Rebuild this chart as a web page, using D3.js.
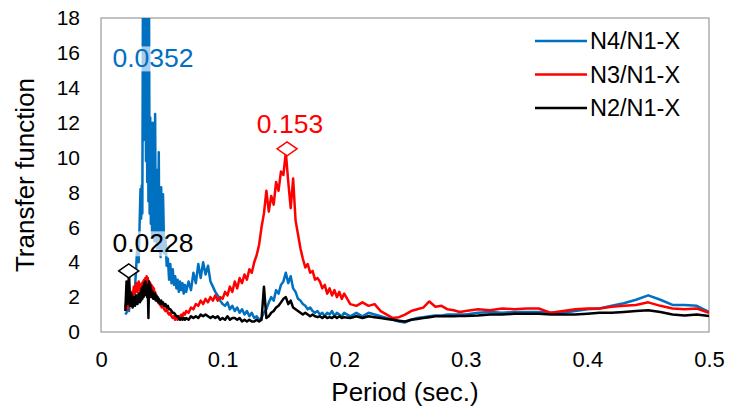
<!DOCTYPE html>
<html>
<head>
<meta charset="utf-8">
<script src="https://cdn.jsdelivr.net/npm/d3@7"></script>
<style>
  body { margin: 0; background: #fff; }
  svg { display: block; font-family: "Liberation Sans", Arial, sans-serif; }
  .tick text { fill: #000; }
</style>
</head>
<body>
<script>
  // shared period grid (sec.)
  var periods = [
    0.020,0.021,0.022,0.023,0.024,0.025,0.026,0.027,0.028,0.029,0.030,0.031,0.032,
    0.0325,0.033,0.0335,0.034,0.0345,0.035,0.0355,0.036,0.0365,0.037,0.0375,0.038,
    0.0385,0.039,0.0395,0.040,0.0405,0.041,0.0415,0.042,0.0425,0.043,0.0435,0.044,
    0.0445,0.045,0.0455,0.046,0.0465,0.047,0.0475,0.048,0.0485,0.049,0.0495,0.050,
    0.051,0.052,0.053,0.054,0.055,0.056,0.057,0.058,0.059,0.060,
    0.061,0.062,0.063,0.064,0.065,0.066,0.067,0.068,0.069,0.070,
    0.072,0.074,0.076,0.078,0.080,0.082,0.084,0.086,0.088,0.090,
    0.092,0.094,0.096,0.098,0.100,0.102,0.104,0.106,0.108,0.110,
    0.112,0.114,0.116,0.118,0.120,0.122,0.124,0.126,0.128,0.130,
    0.132,0.134,0.136,0.138,0.140,0.142,0.144,0.146,0.148,0.150,
    0.152,0.154,0.156,0.158,0.160,0.162,0.164,0.166,0.168,0.170,
    0.172,0.174,0.176,0.178,0.180,0.182,0.184,0.186,0.188,0.190,
    0.192,0.194,0.196,0.198,0.200,
    0.205,0.210,0.215,0.220,0.225,0.230,0.235,0.240,0.245,0.250,
    0.255,0.260,0.265,0.270,0.275,0.280,0.285,0.290,0.295,0.300,
    0.31,0.32,0.33,0.34,0.35,0.36,0.37,0.38,0.39,0.40,
    0.41,0.42,0.43,0.44,0.45,0.46,0.47,0.48,0.49,0.50
  ];

  var n4 = [
    1.0,1.1,1.4,1.2,1.8,1.5,2.2,1.9,2.6,3.8,5.2,4.0,6.9,
    8.2,6.5,8.4,6.8,19.5,11.0,21.0,13.0,19.0,9.8,18.8,8.6,
    19.2,7.5,18.5,6.8,12.3,6.2,11.2,5.5,12.0,6.0,9.5,5.2,
    12.5,5.8,8.6,4.8,9.3,5.5,10.3,4.6,7.4,4.3,8.3,4.6,
    7.9,4.5,5.4,3.8,4.2,3.0,3.9,2.8,3.6,2.7,
    3.2,2.5,3.0,2.3,2.9,2.4,2.8,2.2,2.7,2.3,
    2.9,2.4,3.4,2.8,3.9,3.1,4.0,3.3,3.8,2.9,
    2.6,2.3,2.1,1.8,1.6,1.5,1.7,1.3,1.5,1.2,
    1.4,1.1,1.3,1.0,1.2,0.9,1.1,0.8,0.9,0.7,
    0.8,1.1,1.3,1.7,2.0,1.8,2.4,2.2,2.7,2.9,
    3.4,2.8,3.2,2.5,2.3,1.9,1.8,1.6,1.5,1.3,
    1.4,1.2,1.1,1.2,1.0,1.1,0.9,1.1,1.0,1.2,
    0.9,1.1,1.0,0.9,1.1,
    0.9,1.1,0.9,1.1,1.0,0.9,0.8,0.7,0.6,0.55,
    0.7,0.8,0.85,0.9,0.95,0.95,1.0,1.0,1.0,1.0,
    1.1,1.15,1.1,1.15,1.15,1.15,1.1,1.1,1.2,1.3,
    1.35,1.5,1.65,1.85,2.1,1.85,1.55,1.55,1.5,1.15
  ];

  var n3 = [
    1.4,1.8,1.3,2.1,1.7,2.3,1.9,2.6,2.2,2.8,2.3,2.9,2.4,
    2.7,2.2,2.8,2.3,2.9,2.4,3.0,2.5,3.1,2.6,3.2,2.7,
    3.1,2.5,2.9,2.4,2.8,2.3,2.7,2.2,2.6,2.1,2.5,2.0,
    2.3,1.9,2.1,1.8,2.0,1.7,1.8,1.6,1.7,1.5,1.6,1.4,
    1.5,1.3,1.2,1.3,1.1,1.0,1.1,0.9,0.8,0.9,
    0.7,0.8,0.7,0.9,0.8,1.0,0.9,1.1,1.0,1.2,
    1.1,1.4,1.3,1.6,1.5,1.8,1.6,1.9,1.7,2.0,
    1.8,2.1,1.8,2.0,1.9,2.3,2.1,2.6,2.3,2.9,
    2.5,3.1,2.8,3.3,3.0,3.6,3.4,4.0,4.4,5.0,
    6.0,6.8,8.1,6.9,7.8,7.3,8.6,8.1,9.2,9.0,
    10.3,8.6,7.1,8.8,6.4,5.6,4.8,4.2,3.7,3.9,
    3.4,3.5,3.0,3.1,2.9,2.5,2.7,2.2,2.5,2.1,
    2.4,2.0,2.3,1.9,2.2,
    1.6,1.5,1.7,1.5,1.6,1.2,1.0,0.8,0.85,1.0,
    1.2,1.3,1.4,1.75,1.45,1.5,1.3,1.25,1.15,1.2,
    1.3,1.25,1.35,1.3,1.35,1.35,1.1,1.2,1.3,1.35,
    1.35,1.45,1.5,1.55,1.7,1.5,1.35,1.3,1.35,1.1
  ];

  var n2 = [
    1.2,2.9,1.6,3.5,1.5,2.2,1.4,2.0,1.5,2.1,1.6,2.2,1.7,
    2.3,1.8,2.5,1.9,2.6,2.0,2.8,2.1,2.9,2.2,2.7,2.0,
    2.5,0.8,2.9,2.3,2.7,2.0,2.4,2.0,2.3,1.9,2.2,1.9,
    2.2,1.8,2.1,1.8,2.0,1.7,1.9,1.7,1.8,1.6,1.8,1.6,
    1.7,1.5,1.6,1.4,1.5,1.3,1.3,1.2,1.1,1.1,
    1.0,0.9,0.9,0.8,0.7,0.8,0.7,0.8,0.7,0.8,
    0.7,0.9,0.8,0.9,0.8,1.0,0.9,1.0,0.9,0.8,
    0.9,0.8,0.9,0.7,0.8,0.7,0.9,0.7,0.8,0.8,
    0.7,0.8,0.6,0.7,0.6,0.7,0.6,0.6,0.7,0.6,
    0.7,2.6,0.8,0.9,1.1,1.2,1.4,1.5,1.7,1.9,
    2.0,1.6,1.8,1.4,1.3,1.2,1.1,1.0,1.1,1.0,
    0.9,1.0,0.9,0.85,0.9,0.8,0.9,0.8,0.85,0.8,
    0.9,0.8,0.9,0.8,0.85,
    0.8,0.9,0.8,0.9,0.85,0.8,0.75,0.7,0.65,0.6,
    0.7,0.75,0.8,0.85,0.9,0.9,0.9,0.9,0.92,0.92,
    0.95,1.0,1.0,1.05,1.05,1.05,1.0,1.0,1.0,1.05,
    1.1,1.1,1.15,1.2,1.25,1.15,1.0,0.95,1.0,0.92
  ];

  var seriesNames = ["N4/N1-X", "N3/N1-X", "N2/N1-X"];
  var seriesColors = ["#0070c0", "#ff0000", "#000000"];
  var seriesValues = [n4, n3, n2];

  // peak annotations
  var peakPeriods = [0.0352, 0.153, 0.0228];
  var peakValues = [20.5, 10.5, 3.5];
  var peakLabels = ["0.0352", "0.153", "0.0228"];
  var labelPeriods = [0.0428, 0.1554, 0.0428];
  var labelValues = [15.7, 11.95, 5.1];

  var xTicks = [0, 0.1, 0.2, 0.3, 0.4, 0.5];
  var yTicks = [0, 2, 4, 6, 8, 10, 12, 14, 16, 18];

  var margin = {top: 18, right: 21, bottom: 80, left: 101},
      width = 730 - margin.left - margin.right,
      height = 412 - margin.top - margin.bottom;

  var x = d3.scaleLinear().domain([0, 0.5]).range([0, width]);
  var y = d3.scaleLinear().domain([0, 18]).range([height, 0]);

  var svg = d3.select("body").append("svg")
      .attr("width", 730)
      .attr("height", 412);

  svg.append("defs").append("clipPath")
      .attr("id", "plotclip")
    .append("rect")
      .attr("width", width)
      .attr("height", height);

  var g = svg.append("g")
      .attr("transform", "translate(" + margin.left + "," + margin.top + ")");

  // axis-x
  var gx = g.append("g")
      .attr("transform", "translate(0," + height + ")")
      .call(d3.axisBottom(x).tickValues(xTicks).tickSize(0).tickPadding(19)
        .tickFormat(function(d) { return d === 0 ? "0" : d3.format(".1f")(d); }));
  gx.select(".domain").remove();
  gx.selectAll("text").attr("font-size", "22px").attr("font-family", "Liberation Sans, Arial, sans-serif");

  // axis-y
  var gy = g.append("g")
      .call(d3.axisLeft(y).tickValues(yTicks).tickSize(0).tickPadding(21));
  gy.select(".domain").remove();
  gy.selectAll("text").attr("font-size", "21px").attr("font-family", "Liberation Sans, Arial, sans-serif");

  // plot border
  g.append("rect")
      .attr("width", width)
      .attr("height", height)
      .attr("fill", "none")
      .attr("stroke", "#9a9a9a")
      .attr("stroke-width", 1.2);

  var line = d3.line()
      .x(function(d) { return x(d[0]); })
      .y(function(d) { return y(d[1]); });

  var plot = g.append("g").attr("clip-path", "url(#plotclip)");

  seriesValues.forEach(function(vals, i) {
    plot.append("path")
      .datum(d3.zip(periods, vals))
      .attr("fill", "none")
      .attr("stroke", seriesColors[i])
      .attr("stroke-width", 2.5)
      .attr("stroke-linejoin", "round")
      .attr("d", line);
  });

  // diamond markers at the peaks
  plot.selectAll(".peak")
    .data(peakPeriods)
    .enter().append("path")
      .attr("class", "peak")
      .attr("transform", function(d, i) { return "translate(" + x(d) + "," + y(peakValues[i]) + ")"; })
      .attr("d", "M-10,0L0,-7L10,0L0,7Z")
      .attr("fill", "#fff")
      .attr("stroke", function(d, i) { return seriesColors[i]; })
      .attr("stroke-width", 1.5);

  // peak labels with a light box behind them
  peakLabels.forEach(function(t, i) {
    var lg = g.append("g")
      .attr("transform", "translate(" + x(labelPeriods[i]) + "," + y(labelValues[i]) + ")");
    var txt = lg.append("text")
      .attr("text-anchor", "middle")
      .attr("dy", "0.35em")
      .attr("font-size", "26.5px")
      .attr("fill", seriesColors[i])
      .text(t);
    var bb = txt.node().getBBox();
    lg.insert("rect", "text")
      .attr("x", bb.x)
      .attr("y", bb.y + 3)
      .attr("width", bb.width)
      .attr("height", bb.height - 5)
      .attr("fill", "#fff")
      .attr("opacity", 0.65);
  });

  // legend
  var legend = svg.append("g")
      .attr("transform", "translate(535,41)");
  var item = legend.selectAll("g")
    .data(seriesNames)
    .enter().append("g")
      .attr("transform", function(d, i) { return "translate(0," + (i * 33.5) + ")"; });
  item.append("line")
      .attr("x1", 0).attr("x2", 52)
      .attr("stroke", function(d, i) { return seriesColors[i]; })
      .attr("stroke-width", 2.5);
  item.append("text")
      .attr("x", 55)
      .attr("dy", "0.35em")
      .attr("font-size", "23.5px")
      .text(function(d) { return d; });

  // axis titles
  svg.append("text")
      .attr("x", margin.left + width / 2)
      .attr("y", 401)
      .attr("text-anchor", "middle")
      .attr("font-size", "26px")
      .text("Period (sec.)");

  svg.append("text")
      .attr("transform", "translate(34," + (margin.top + height / 2) + ") rotate(-90)")
      .attr("text-anchor", "middle")
      .attr("font-size", "26px")
      .text("Transfer function");
</script>
</body>
</html>
